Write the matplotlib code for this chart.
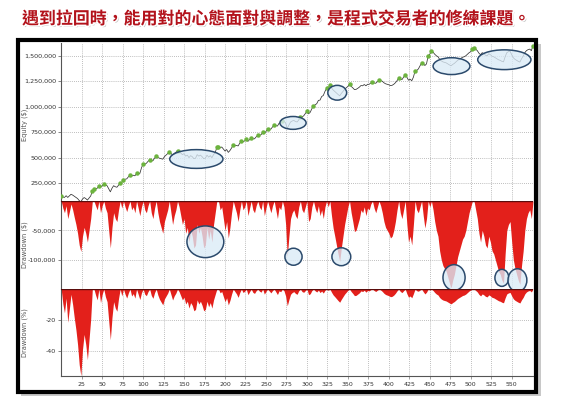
import numpy as np
import matplotlib
matplotlib.use("Agg")
import matplotlib.pyplot as plt
from matplotlib.patches import Ellipse, Rectangle
import matplotlib.patheffects as pe

# ---------------- data ----------------
trade_no = list(range(0, 577, 2))
equity_k = [
    124, 115, 110, 127, 110, 125, 141, 133, 122, 112,
    99, 79, 68, 94, 109, 99, 84, 104, 124, 172,
    190, 197, 200, 222, 208, 225, 238, 230, 225, 195,
    165, 200, 225, 215, 210, 230, 255, 258, 285, 288,
    292, 312, 330, 319, 328, 322, 345, 345, 345, 400,
    440, 435, 445, 464, 480, 470, 470, 496, 515, 502,
    495, 490, 485, 510, 525, 540, 560, 543, 525, 542,
    553, 570, 560, 545, 530, 540, 515, 525, 500, 520,
    510, 490, 495, 530, 515, 525, 510, 490, 495, 525,
    505, 520, 500, 530, 550, 600, 608, 597, 605, 585,
    565, 580, 552, 570, 595, 625, 620, 620, 615, 642,
    665, 655, 665, 680, 660, 678, 695, 685, 685, 704,
    720, 720, 725, 750, 735, 758, 780, 780, 780, 802,
    820, 815, 810, 838, 840, 862, 860, 840, 785, 820,
    850, 860, 865, 855, 850, 870, 900, 900, 910, 932,
    955, 930, 945, 980, 1010, 1018, 1030, 1062, 1065, 1100,
    1110, 1150, 1180, 1185, 1210, 1185, 1164, 1150, 1135, 1120,
    1107, 1130, 1150, 1170, 1185, 1200, 1220, 1200, 1185, 1168,
    1170, 1180, 1192, 1208, 1205, 1218, 1205, 1220, 1220, 1233,
    1240, 1233, 1230, 1245, 1260, 1257, 1250, 1235, 1225, 1220,
    1215, 1207, 1210, 1220, 1235, 1255, 1280, 1268, 1265, 1290,
    1315, 1290, 1260, 1270, 1255, 1290, 1350, 1355, 1370, 1400,
    1430, 1425, 1404, 1420, 1500, 1515, 1550, 1535, 1515, 1500,
    1490, 1465, 1450, 1440, 1435, 1430, 1420, 1410, 1402, 1415,
    1425, 1440, 1455, 1465, 1475, 1485, 1490, 1500, 1515, 1530,
    1540, 1570, 1580, 1565, 1550, 1525, 1510, 1530, 1520, 1505,
    1500, 1520, 1510, 1495, 1490, 1480, 1470, 1460, 1455, 1445,
    1440, 1490, 1530, 1540, 1545, 1510, 1480, 1465, 1455, 1445,
    1438, 1470, 1495, 1530, 1550, 1560, 1565, 1550, 1600]
drawdown_k = [
    0, -12, -20, -8, -30, -18, -5, -15, -28, -40,
    -55, -75, -86, -60, -45, -55, -70, -50, -30, 0,
    0, -8, -15, 0, -20, -8, 0, -12, -20, -50,
    -80, -45, -20, -30, -35, -15, 0, -12, 0, -10,
    -18, -8, 0, -15, -10, -20, 0, -12, -25, -10,
    0, -15, -20, -8, 0, -20, -30, -12, 0, -20,
    -35, -45, -55, -35, -25, -15, 0, -20, -40, -25,
    -15, 0, -10, -25, -40, -30, -55, -45, -70, -50,
    -60, -80, -75, -40, -55, -45, -60, -80, -75, -45,
    -65, -50, -70, -40, -20, 0, 0, -15, -10, -30,
    -50, -35, -63, -45, -20, 0, -10, -20, -35, -15,
    0, -15, -10, 0, -25, -12, 0, -15, -20, -8,
    0, -10, -15, 0, -25, -12, 0, -10, -20, -8,
    0, -15, -30, -10, -15, 0, -10, -40, -95, -60,
    -30, -20, -15, -25, -30, -10, 0, -15, -20, -10,
    0, -35, -30, -10, 0, -12, -20, -8, -25, -15,
    -30, -10, 0, -10, 0, -25, -46, -60, -75, -90,
    -103, -80, -60, -40, -25, -10, 0, -20, -35, -52,
    -50, -40, -30, -15, -20, -10, -25, -12, -15, -5,
    0, -12, -20, -10, 0, -8, -20, -35, -45, -50,
    -55, -63, -60, -50, -35, -15, 0, -20, -30, -15,
    0, -40, -70, -60, -75, -40, 0, -15, -20, -10,
    0, -25, -46, -30, 0, -10, 0, -15, -35, -50,
    -60, -85, -100, -110, -115, -120, -130, -140, -148, -135,
    -125, -110, -95, -85, -75, -65, -60, -50, -35, -20,
    -10, 0, 0, -15, -30, -55, -70, -50, -60, -75,
    -80, -60, -70, -85, -90, -100, -110, -120, -125, -135,
    -140, -90, -50, -40, -35, -70, -100, -115, -125, -135,
    -142, -110, -85, -50, -30, -20, -15, -30, 0]

x_ticks = list(range(25, 551, 25))
equity_ticks = [250000, 500000, 750000, 1000000, 1250000, 1500000]
dd_ticks = [-50000, -100000]
ddpct_ticks = [-20, -40]
title = "遇到拉回時，能用對的心態面對與調整，是程式交易者的修練課題。"

# highlighted areas: (centre trade, width in trades, centre value, height)
equity_marks = [(165, 65, 487000, 184000), (283, 32, 841000, 126000),
                (337, 23, 1137000, 145000), (476.5, 45, 1398000, 165000),
                (541, 65, 1461000, 194000)]
dd_marks = [(176, 45, -69500, 54000), (283.6, 21, -95000, 29000),
            (342, 23, -95000, 30500), (479.6, 27, -130500, 44000),
            (538, 17, -131000, 29000), (557, 23, -135000, 39000)]

# ---------------- derived ----------------
x = np.array(trade_no, dtype=float)
equity = np.array(equity_k, dtype=float) * 1000
dd = np.array(drawdown_k, dtype=float) * 1000
peak = equity - dd
dd_pct = dd / peak * 100
new_high = dd == 0

# ---------------- figure ----------------
W, H = 562, 413
fig = plt.figure(figsize=(W / 100, H / 100), dpi=100)
fig.patch.set_facecolor("white")

def fx(px):
    return px / W

def fy(py):
    return 1 - py / H

# frame shadow and frame (behind the axes)
fig.patches.append(Rectangle((fx(21), fy(396)), fx(520), (396 - 44) / H,
                             transform=fig.transFigure, facecolor="#c8c8c8",
                             edgecolor="none", zorder=-3))
fig.patches.append(Rectangle((fx(18), fy(392)), fx(518), (392 - 40) / H,
                             transform=fig.transFigure, facecolor="white",
                             edgecolor="black", linewidth=3.0, zorder=-2))

left = fx(61.2)
width = fx(533) - left
ax1 = fig.add_axes([left, fy(201), width, fy(43) - fy(201)])
ax2 = fig.add_axes([left, fy(289), width, fy(201) - fy(289)])
ax3 = fig.add_axes([left, fy(376), width, fy(289) - fy(376)])

grid_kw = dict(color="#a8a8a8", linestyle=(0, (1, 1.5)), linewidth=0.6)
red = "#e3201b"

for ax in (ax1, ax2, ax3):
    ax.set_facecolor("none")
    ax.set_xlim(0, 576)
    ax.set_xticks(x_ticks)
    for s in ("top", "right", "bottom"):
        ax.spines[s].set_visible(False)
    ax.spines["left"].set_color("#555555")
    ax.spines["left"].set_linewidth(0.8)
    ax.grid(True, **grid_kw)
    ax.set_axisbelow(True)
    ax.tick_params(axis="y", labelsize=4.6, length=2, width=0.5,
                   colors="#555555", labelcolor="#333333", pad=1.5)
    ax.tick_params(axis="x", length=0, labelbottom=False)

# equity
ax1.plot(x, equity, color="#333333", linewidth=0.55, zorder=3)
ax1.plot(x[new_high], equity[new_high], linestyle="none", marker="o",
         markersize=3.2, color="#6cb33e", markeredgewidth=0, zorder=4)
ax1.set_ylim(75000, 1625000)
ax1.set_yticks(equity_ticks)
ax1.set_yticklabels([f"{v:,}" for v in equity_ticks], family="DejaVu Sans")

# drawdown $
ax2.fill_between(x, dd, 0, color=red, linewidth=0, zorder=2)
ax2.axhline(0, color="#5a0c0c", linewidth=1.0, zorder=3)
ax2.set_ylim(-150000, 0)
ax2.set_yticks(dd_ticks)
ax2.set_yticklabels([f"{v:,}" for v in dd_ticks], family="DejaVu Sans")

# drawdown %
ax3.fill_between(x, dd_pct, 0, color=red, linewidth=0, zorder=2)
ax3.axhline(0, color="#5a0c0c", linewidth=1.0, zorder=3)
ax3.set_ylim(-56, 0)
ax3.set_yticks(ddpct_ticks)
ax3.set_yticklabels([str(v) for v in ddpct_ticks], family="DejaVu Sans")
ax3.spines["bottom"].set_visible(True)
ax3.spines["bottom"].set_color("#555555")
ax3.spines["bottom"].set_linewidth(0.8)
ax3.tick_params(axis="x", length=2, width=0.5, colors="#777777",
                labelbottom=True, labelsize=4.5, labelcolor="#333333", pad=2)
ax3.set_xticklabels([str(v) for v in x_ticks], family="DejaVu Sans")

# highlight ellipses
ell_face = (0.86, 0.92, 0.97, 0.78)
ell_edge = "#2b4a6c"
for cx_, w_, cy_, h_ in equity_marks:
    ax1.add_patch(Ellipse((cx_, cy_), w_, h_, facecolor=ell_face,
                          edgecolor=ell_edge, linewidth=1.1, zorder=5, clip_on=False))
for cx_, w_, cy_, h_ in dd_marks:
    ax2.add_patch(Ellipse((cx_, cy_), w_, h_, facecolor=ell_face,
                          edgecolor=ell_edge, linewidth=1.1, zorder=5, clip_on=False))

# axis titles
for label, py in (("Equity ($)", 125), ("Drawdown ($)", 245), ("Drawdown (%)", 333)):
    fig.text(fx(25), fy(py), label, rotation=90, ha="center", va="center",
             fontsize=4.8, color="#555555", family="DejaVu Sans")

# headline
fig.text(fx(22), fy(19), title, ha="left", va="center", fontsize=12.2,
         fontweight="bold", color="#b3121b",
         family=["Noto Sans CJK TC", "DejaVu Sans"],
         path_effects=[pe.SimplePatchShadow(offset=(1.2, -1.2), shadow_rgbFace="0.55", alpha=0.5),
                       pe.withStroke(linewidth=2.2, foreground="white")])

fig.savefig("out.png", dpi=100, facecolor="white")
